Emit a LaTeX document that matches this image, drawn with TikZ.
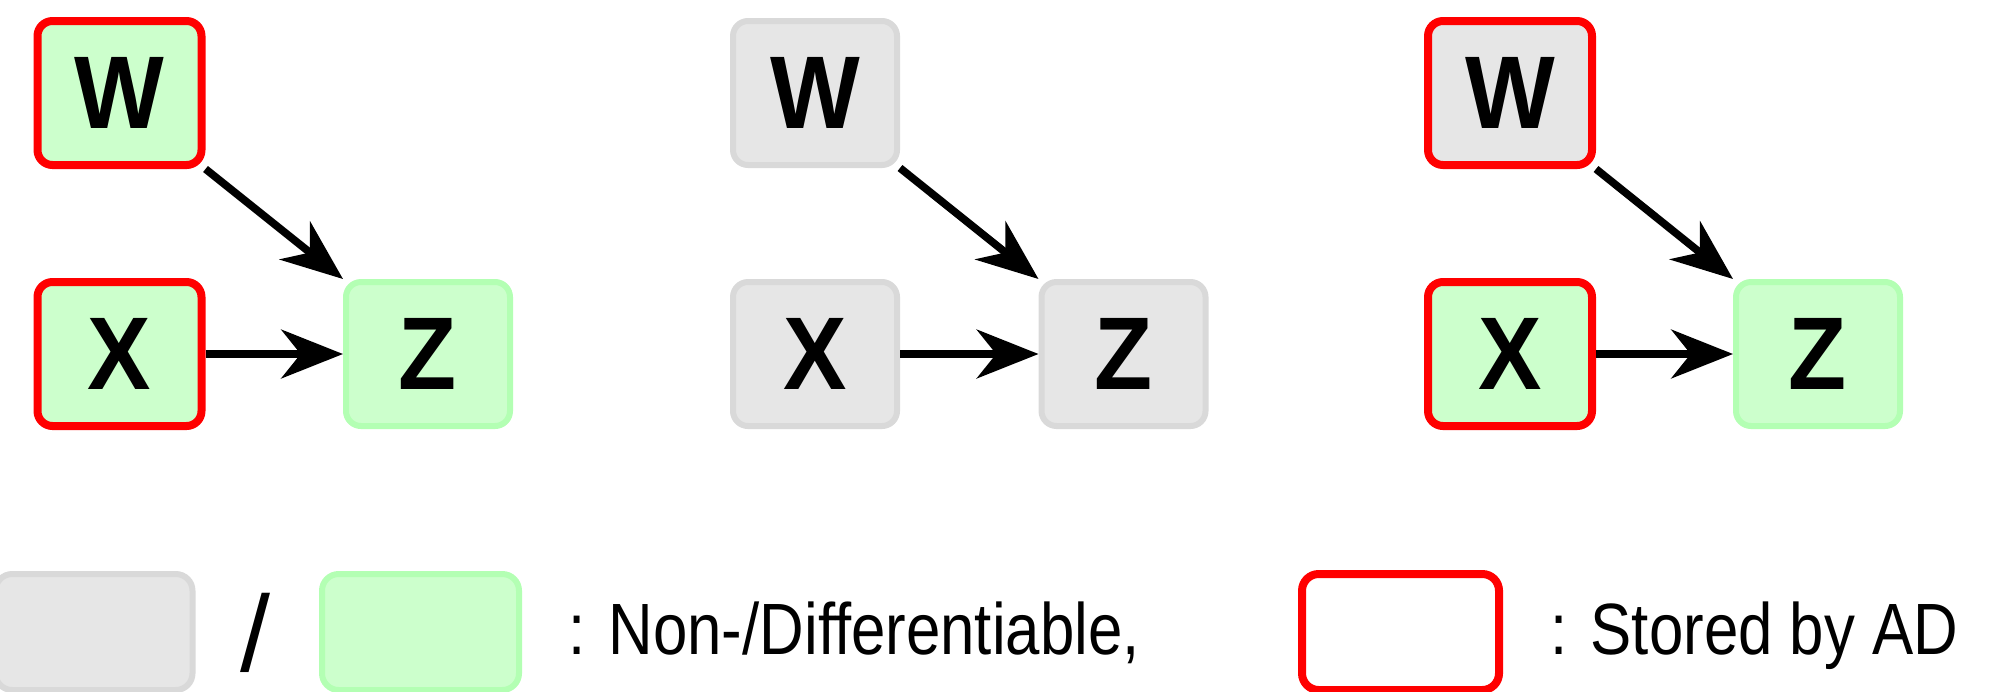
\documentclass[tikz,border=0pt]{standalone}
\usepackage{fontspec}
\setmainfont{Liberation Sans}
\newfontfamily\letterfont[FakeStretch=0.92]{Liberation Sans}
\newfontfamily\legendfont[FakeStretch=0.85]{Liberation Sans}
\usetikzlibrary{arrows.meta}

\definecolor{difffill}{HTML}{CCFFCC}
\definecolor{diffline}{HTML}{B3FFB3}
\definecolor{ndfill}{HTML}{E6E6E6}
\definecolor{ndline}{HTML}{D9D9D9}
\definecolor{storedred}{HTML}{FF0000}

\tikzset{
  var/.style={rounded corners=4.5pt, minimum width=49.2pt, minimum height=43.2pt,
    inner sep=0pt, font=\letterfont\bfseries\fontsize{31}{31}\selectfont},
  diff/.style={var, fill=difffill, draw=diffline, line width=1.8pt},
  nondiff/.style={var, fill=ndfill, draw=ndline, line width=1.8pt},
  stored/.style={draw=storedred, line width=2.4pt},
  arr/.style={line width=2.3pt, -{Stealth[length=18.5pt, width=14.6pt, inset=5.8pt]}},
  legbox/.style={rounded corners=5pt, minimum width=59.1pt, minimum height=34.8pt, inner sep=0pt},
  legtext/.style={anchor=base west, inner sep=0pt, font=\legendfont\fontsize{21.8}{26}\selectfont}
}

\begin{document}
\begin{tikzpicture}[x=0.3pt, y=-0.3pt]
\useasboundingbox (0,0) rectangle (1992,691);
\clip (0,0) rectangle (1992,691);

% all differentiable, inputs stored
\node[diff, stored] (W1) at (119.5,93) {W};
\node[diff, stored] (X1) at (119.5,354) {X};
\node[diff] (Z1) at (428,354) {Z};
\draw[arr] (W1.south east) -- (Z1.north west);
\draw[arr] (X1.east) -- (Z1.west);

% nothing differentiable, nothing stored
\node[nondiff] (W2) at (815,93) {W};
\node[nondiff] (X2) at (815,354) {X};
\node[nondiff] (Z2) at (1123.5,354) {Z};
\draw[arr] (W2.south east) -- (Z2.north west);
\draw[arr] (X2.east) -- (Z2.west);

% only X differentiable, both inputs stored
\node[nondiff, stored] (W3) at (1510,93) {W};
\node[diff, stored] (X3) at (1510,354) {X};
\node[diff] (Z3) at (1818,354) {Z};
\draw[arr] (W3.south east) -- (Z3.north west);
\draw[arr] (X3.east) -- (Z3.west);

% legend
\node[legbox, fill=ndfill, draw=ndline, line width=1.8pt] (keyND) at (94,632) {};
\node[inner sep=0pt, font=\fontsize{32.4}{32.4}\selectfont] (slash) at (255.5,633) {/};
\node[legbox, fill=difffill, draw=diffline, line width=1.8pt] (keyD) at (420.5,632) {};
\node[legtext] (keyDtext) at (568,654) {: Non-/Differentiable,};
\node[legbox, fill=white, draw=storedred, line width=2.4pt] (keyS) at (1400.5,632) {};
\node[legtext] (keyStext) at (1550,654) {: Stored by AD};
\end{tikzpicture}
\end{document}
